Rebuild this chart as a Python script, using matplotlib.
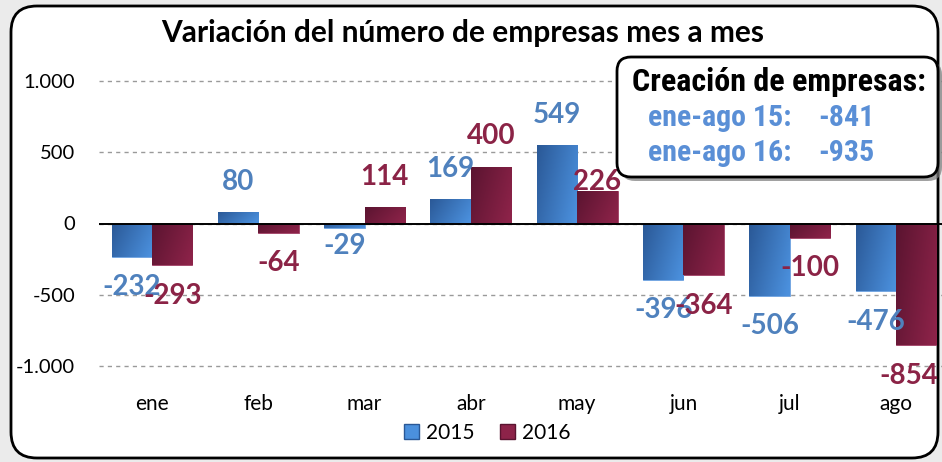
import matplotlib

matplotlib.use("Agg")
import matplotlib.pyplot as plt
import numpy as np
from matplotlib import ticker
from matplotlib.colors import to_rgb
from matplotlib.patches import FancyBboxPatch, Patch

# --- datos ---
meses = ["ene", "feb", "mar", "abr", "may", "jun", "jul", "ago"]
var_2015 = [-232, 80, -29, 169, 549, -396, -506, -476]
var_2016 = [-293, -64, 114, 400, 226, -364, -100, -854]
series = ["2015", "2016"]
resumen_etiquetas = ["ene-ago 15:", "ene-ago 16:"]
resumen_valores = [-841, -935]

# --- estilo ---
W, H, DPI = 942, 462, 100
BLUE_DARK, BLUE_LIGHT = "#2a5896", "#4b90dd"
RED_DARK, RED_LIGHT = "#5a1430", "#8d2349"
BLUE_TXT, RED_TXT = "#4f81bd", "#8b2346"
BOX_TXT = "#5a8fd6"
FONT = "Lato"
NARROW = ["Roboto Condensed", "Roboto", "DejaVu Sans"]
LABEL_OFF = 22  # pt desde el extremo de la barra
# desplazamientos particulares de etiquetas (serie, mes) -> (dx, dy) en pt
LABEL_OFF_SPECIAL = {(1, 4): (0, 7), (0, 2): (0, 13), (1, 7): (-5, 22)}


def px(x, y):
    return x / W, 1 - y / H


def fmt_miles(v, _):
    s = f"{abs(int(v)):,}".replace(",", ".")
    return ("-" if v < 0 else "") + s


def gradient_fill(ax, bars, c0, c1):
    a, b = np.array(to_rgb(c0)), np.array(to_rgb(c1))
    u = np.linspace(0, 1, 64)[None, :]
    v = np.linspace(0, 1, 64)[:, None]
    t = np.clip(0.75 * u + 0.3 * v, 0, 1)
    img = a + (b - a) * t[..., None]
    for r in bars:
        x0, y0 = r.get_x(), r.get_y()
        w, h = r.get_width(), r.get_height()
        ylo, yhi = min(y0, y0 + h), max(y0, y0 + h)
        im = ax.imshow(img, extent=(x0, x0 + w, ylo, yhi), origin="upper",
                       aspect="auto", zorder=2, interpolation="bilinear")
        im.set_clip_path(r)


fig = plt.figure(figsize=(W / DPI, H / DPI), dpi=DPI)
fig.patch.set_facecolor("#ebebeb")

# marco redondeado de fondo (coordenadas en pixeles)
bg = fig.add_axes((0, 0, 1, 1), zorder=0)
bg.set_xlim(0, W)
bg.set_ylim(H, 0)
bg.set_axis_off()
bg.add_patch(FancyBboxPatch((11, 6), 927, 452, boxstyle="round,pad=0,rounding_size=26",
                            facecolor="white", edgecolor="black", linewidth=2))

# --- grafico ---
ax = fig.add_axes((98.85 / W, 1 - 366 / H, 850.3 / W, 285 / H), zorder=1)
ax.patch.set_alpha(0)
x = np.arange(len(meses))
bw = 0.38
b15 = ax.bar(x - bw / 2, var_2015, bw, color=BLUE_LIGHT, edgecolor="#6fa3e0",
             linewidth=0.6, zorder=2)
b16 = ax.bar(x + bw / 2, var_2016, bw, color=RED_LIGHT, edgecolor="#a04066",
             linewidth=0.6, zorder=2)
gradient_fill(ax, b15, BLUE_DARK, BLUE_LIGHT)
gradient_fill(ax, b16, RED_DARK, RED_LIGHT)

for si, (vals, col, dx) in enumerate([(var_2015, BLUE_TXT, -bw / 2), (var_2016, RED_TXT, bw / 2)]):
    for i, v in enumerate(vals):
        ox, oy = LABEL_OFF_SPECIAL.get((si, i), (0, LABEL_OFF))
        ax.annotate(f"{v}", (i + dx, v), xytext=(ox, oy if v >= 0 else -oy),
                    textcoords="offset points", ha="center", va="center",
                    fontsize=20, fontweight="bold", color=col, family=FONT,
                    annotation_clip=False, zorder=4)

ax.axhline(0, color="black", linewidth=1.4, zorder=3)
ax.set_xlim(-0.5, len(meses) - 0.5)
ax.set_ylim(-1000, 1000)
ax.set_yticks([-1000, -500, 0, 500, 1000])
ax.yaxis.set_major_formatter(ticker.FuncFormatter(fmt_miles))
ax.set_xticks(x)
ax.set_xticklabels(meses)
ax.tick_params(axis="y", length=0, pad=17, labelsize=14.5)
ax.tick_params(axis="x", length=0, pad=20, labelsize=15)
for lab in ax.get_xticklabels() + ax.get_yticklabels():
    lab.set_family(FONT)
ax.grid(axis="y", color="#9a9a9a", linestyle=(0, (3, 3)), linewidth=1, zorder=1)
for gl in ax.get_ygridlines():
    gl.set_clip_on(False)
ax.set_axisbelow(True)
for s in ax.spines.values():
    s.set_visible(False)

fig.text(*px(463, 33), "Variación del número de empresas mes a mes", ha="center",
         va="center", fontsize=21.5, fontweight="bold", family=FONT)

fig.legend(handles=[Patch(facecolor=BLUE_LIGHT, edgecolor=BLUE_DARK),
                    Patch(facecolor=RED_LIGHT, edgecolor=RED_DARK)],
           labels=series, loc="center", bbox_to_anchor=px(487, 433), ncol=2,
           frameon=False, prop={"family": FONT, "size": 15}, handlelength=0.72,
           handleheight=0.7, handletextpad=0.35, columnspacing=1.2)

# --- recuadro resumen ---
ov = fig.add_axes((0, 0, 1, 1), zorder=5)
ov.set_xlim(0, W)
ov.set_ylim(H, 0)
ov.set_axis_off()
ov.patch.set_alpha(0)
ov.add_patch(FancyBboxPatch((621, 61), 321, 120, boxstyle="round,pad=0,rounding_size=14",
                            facecolor="#7a7a7a", edgecolor="none", alpha=0.7))
ov.add_patch(FancyBboxPatch((617, 57), 321, 120, boxstyle="round,pad=0,rounding_size=14",
                            facecolor="white", edgecolor="black", linewidth=2))
ov.text(779, 82, "Creación de empresas:", ha="center", va="center", fontsize=23,
        fontweight="bold", family=NARROW)
for k, (lab, val) in enumerate(zip(resumen_etiquetas, resumen_valores)):
    yy = 118 + k * 35
    ov.text(648, yy, lab, ha="left", va="center", fontsize=21.5, fontweight="bold",
            color=BOX_TXT, family=NARROW)
    ov.text(818, yy, f"{val}", ha="left", va="center", fontsize=21.5, fontweight="bold",
            color=BOX_TXT, family=NARROW)

fig.savefig("out.png", dpi=DPI, facecolor=fig.get_facecolor())
